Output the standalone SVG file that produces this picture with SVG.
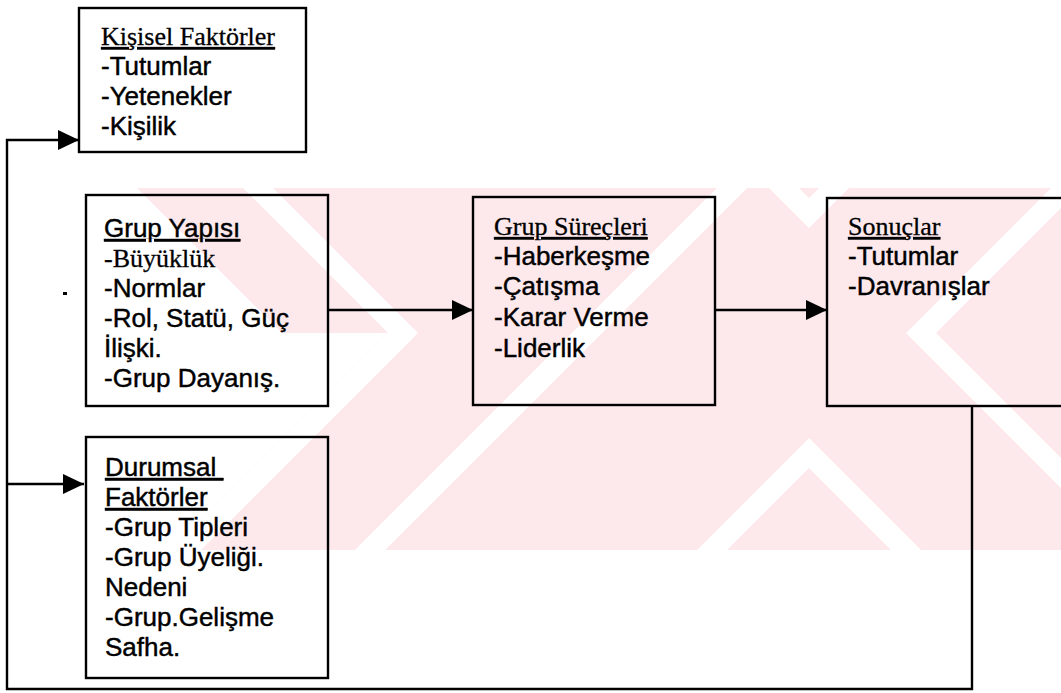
<svg xmlns="http://www.w3.org/2000/svg" width="1061" height="693" viewBox="0 0 1061 693">
  <style>
    .box { fill: none; stroke: #000; stroke-width: 2.4; }
    .sans { font-family: "Liberation Sans", Arial, sans-serif; font-size: 26px; fill: #000; stroke: #000; stroke-width: 0.45; }
    .serif { font-family: "Liberation Serif", "Times New Roman", serif; font-size: 26px; fill: #000; stroke: #000; stroke-width: 0.3; }
    .u { text-decoration: underline; white-space: pre; }
    .wire { fill: none; stroke: #000; stroke-width: 2.4; }
    .wm { fill: #fde8ec; }
    .gap { fill: #fff; }
  </style>
  <defs>
    <marker id="head" markerUnits="userSpaceOnUse" markerWidth="22" markerHeight="20" refX="21" refY="10" orient="auto">
      <path d="M0,0 L21,10 L0,20 Z" fill="#000"/>
    </marker>
    <clipPath id="band">
      <rect x="0" y="188" width="1061" height="362"/>
    </clipPath>
  </defs>

  <rect width="1061" height="693" fill="#fff"/>

  <!-- background mark: pale stripes with white gaps -->
  <g id="watermark" clip-path="url(#band)">
    <rect class="wm" x="0" y="188" width="1061" height="362"/>
    <!-- outer limits -->
    <polygon class="gap" points="388,333 88,633 -1000,633 -1000,333"/>
    <polygon class="gap" points="282,333 -18,33 -1000,33 -1000,333"/>
    <!-- right opening chevron gap -->
    <polygon class="gap" points="1206,33 906,333 1206,633 1236,633 936,333 1236,33"/>
    <!-- long rising gap across the middle -->
    <polygon class="gap" points="805,100 835,100 285,650 255,650"/>
    <!-- left chevron gap -->
    <polygon class="gap" points="118,33 418,333 118,633 88,633 388,333 88,33"/>
    <!-- lower and upper peaked gaps -->
    <polygon class="gap" points="509,738 809,438 1109,738 1109,768 809,468 509,768"/>
    <polygon class="gap" points="509,-72 809,228 1109,-72 1109,-102 809,198 509,-102"/>
  </g>

  <g id="connectors">
    <path class="wire" d="M972,406 V689 H7 V140 H79" marker-end="url(#head)"/>
    <path class="wire" d="M7,484 H84" marker-end="url(#head)"/>
    <path class="wire" d="M328,310 H473" marker-end="url(#head)"/>
    <path class="wire" d="M715,310 H827" marker-end="url(#head)"/>
  </g>

  <g id="kisisel">
    <rect class="box" x="79" y="8" width="227" height="144"/>
    <text class="serif u" x="101" y="45">Kişisel Faktörler</text>
    <text class="sans" x="101" y="75">-Tutumlar</text>
    <text class="sans" x="101" y="105">-Yetenekler</text>
    <text class="sans" x="101" y="135">-Kişilik</text>
  </g>

  <g id="grup-yapisi">
    <rect class="box" x="86" y="195" width="242" height="211"/>
    <text class="sans u" x="104" y="237">Grup Yapısı</text>
    <text class="serif" x="104" y="267">-Büyüklük</text>
    <text class="sans" x="104" y="297">-Normlar</text>
    <text class="sans" x="104" y="327">-Rol, Statü, Güç</text>
    <text class="sans" x="104" y="357">İlişki.</text>
    <text class="sans" x="104" y="387">-Grup Dayanış.</text>
  </g>
  <rect x="63" y="292" width="4" height="3" fill="#000"/>

  <g id="durumsal">
    <rect class="box" x="86" y="437" width="242" height="241"/>
    <text class="sans u" x="105" y="476">Durumsal </text>
    <text class="sans u" x="105" y="506">Faktörler</text>
    <text class="sans" x="105" y="536">-Grup Tipleri</text>
    <text class="sans" x="105" y="566">-Grup Üyeliği.</text>
    <text class="sans" x="105" y="596">Nedeni</text>
    <text class="sans" x="105" y="626">-Grup.Gelişme</text>
    <text class="sans" x="105" y="656">Safha.</text>
  </g>

  <g id="grup-surecleri">
    <rect class="box" x="473" y="197" width="242" height="208"/>
    <text class="serif u" x="494" y="235">Grup Süreçleri</text>
    <text class="sans" x="494" y="265">-Haberkeşme</text>
    <text class="sans" x="494" y="295">-Çatışma</text>
    <text class="sans" x="494" y="326">-Karar Verme</text>
    <text class="sans" x="494" y="357">-Liderlik</text>
  </g>

  <g id="sonuclar">
    <rect class="box" x="827" y="198" width="250" height="208"/>
    <text class="serif u" x="848" y="235">Sonuçlar</text>
    <text class="sans" x="848" y="265">-Tutumlar</text>
    <text class="sans" x="848" y="295">-Davranışlar</text>
  </g>
</svg>
